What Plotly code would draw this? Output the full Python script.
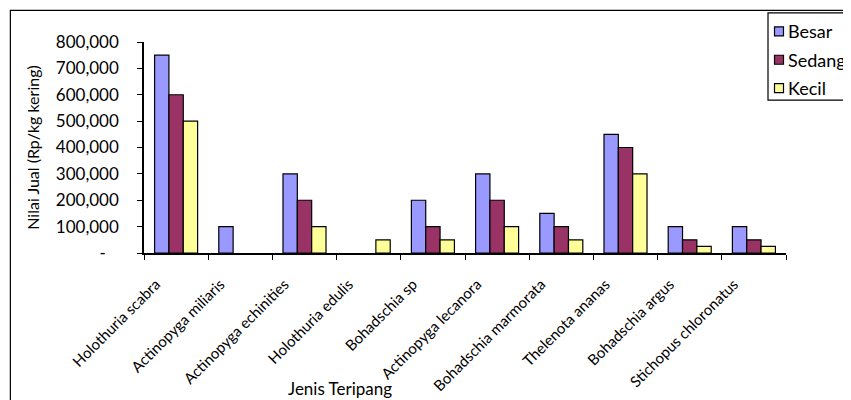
import plotly.graph_objects as go

categories = ["Holothuria scabra", "Actinopyga miliaris", "Actinopyga echinities",
              "Holothuria edulis", "Bohadschia sp", "Actinopyga lecanora",
              "Bohadschia marmorata", "Thelenota ananas", "Bohadschia argus",
              "Stichopus chloronatus"]
besar = [750000, 100000, 300000, 0, 200000, 300000, 150000, 450000, 100000, 100000]
sedang = [600000, 0, 200000, 0, 100000, 200000, 100000, 400000, 50000, 50000]
kecil = [500000, 0, 100000, 50000, 50000, 100000, 50000, 300000, 25000, 25000]
series_names = ["Besar", "Sedang", "Kecil"]
y_tickvals = [0, 100000, 200000, 300000, 400000, 500000, 600000, 700000, 800000]
y_ticktext = ["-\u00a0\u00a0\u00a0", "100,000", "200,000", "300,000", "400,000",
              "500,000", "600,000", "700,000", "800,000"]

FONT = "Lato"
COLORS = ["#9999FF", "#993366", "#FFFF99"]
OFF = 8  # page body margin offset of the figure in the window
W, H = 851 - OFF, 400 - OFF
# target plot area in window pixels: x 143.7..786, y 41.7..253.3
ML, MR = 143.7 - OFF, W - (786 - OFF)
MT, MB = 41.7 - OFF, H - (253.3 - OFF)
PW, PH = W - ML - MR, H - MT - MB

def px_x(p):
    return (p - OFF - ML) / PW

def px_y(p):
    return (H - MB - (p - OFF)) / PH

fig = go.Figure()
for name, vals, col in zip(series_names, [besar, sedang, kecil], COLORS):
    # zero values draw no visible bar in the reference
    yv = [v if v else None for v in vals]
    fig.add_trace(go.Bar(x=categories, y=yv, name=name, showlegend=False,
                         marker=dict(color=col, line=dict(color="black", width=1.2))))

fig.update_layout(
    width=W, height=H,
    margin=dict(l=ML, r=MR, t=MT, b=MB, pad=0, autoexpand=False),
    paper_bgcolor="white", plot_bgcolor="white",
    barmode="group", bargap=0.33, bargroupgap=0,
    font=dict(family=FONT, color="black"),
    showlegend=False,
)
fig.update_xaxes(showline=True, linecolor="black", linewidth=1.5,
                 ticks="outside", tickson="boundaries", ticklen=5, tickcolor="black",
                 tickangle=-45, tickfont=dict(family=FONT, size=15),
                 ticklabelshift=-20, ticklabelstandoff=15, showgrid=False)
fig.update_yaxes(range=[0, 800000], showline=True, linecolor="black", linewidth=1.5,
                 ticks="outside", ticklen=5, tickcolor="black",
                 tickvals=y_tickvals, ticktext=y_ticktext,
                 tickfont=dict(family=FONT, size=17), ticklabelstandoff=15,
                 showgrid=False, zeroline=False,
                 title=dict(text="Nilai Jual (Rp/kg kering)", font=dict(family=FONT, size=16),
                            standoff=12))
fig.add_annotation(text="Jenis Teripang", xref="paper", yref="paper",
                   x=px_x(340), y=px_y(389), xanchor="center", yanchor="middle",
                   showarrow=False, font=dict(family=FONT, size=17))
# outer chart frame
fig.add_shape(type="rect", xref="paper", yref="paper",
              x0=px_x(10), x1=px_x(870), y0=px_y(420), y1=px_y(10),
              line=dict(color="black", width=1.2), fillcolor="rgba(0,0,0,0)", layer="below")

# legend box (extends past the right edge as in the reference)
fig.add_shape(type="rect", xref="paper", yref="paper",
              x0=px_x(768), x1=px_x(880), y0=px_y(100), y1=px_y(12.5),
              line=dict(color="black", width=1.2), fillcolor="white")
for i, (name, col) in enumerate(zip(series_names, COLORS)):
    cy = 31 + i * 28.5
    fig.add_shape(type="rect", xref="paper", yref="paper",
                  x0=px_x(774.5), x1=px_x(783.5), y0=px_y(cy + 4.5), y1=px_y(cy - 4.5),
                  line=dict(color="black", width=1.2), fillcolor=col)
    fig.add_annotation(text=name, xref="paper", yref="paper",
                       x=px_x(786), y=px_y(cy), xanchor="left", yanchor="middle",
                       showarrow=False, font=dict(family=FONT, size=18))

fig.write_html("out.html")
